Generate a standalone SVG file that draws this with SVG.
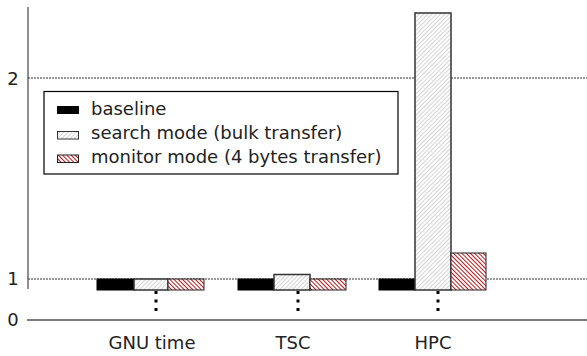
<svg xmlns="http://www.w3.org/2000/svg" width="587" height="356" viewBox="0 0 587 356">
<defs>
<pattern id="hatchSearch" patternUnits="userSpaceOnUse" width="3" height="3" patternTransform="rotate(45)">
<rect width="3" height="3" fill="#ffffff"/>
<line x1="0" y1="0" x2="0" y2="3" stroke="#a8a8a8" stroke-width="1"/>
</pattern>
<pattern id="hatchMonitor" patternUnits="userSpaceOnUse" width="3" height="3" patternTransform="rotate(-45)">
<rect width="3" height="3" fill="#ffffff"/>
<line x1="0" y1="0" x2="0" y2="3" stroke="#b00000" stroke-width="1.8"/>
</pattern>
</defs>
<style>
text{font-family:"DejaVu Sans","Liberation Sans",sans-serif;font-size:18px;fill:#222}
.grid{stroke:#333;stroke-width:1;stroke-dasharray:2,1;fill:none}
.base{fill:#000;stroke:#000;stroke-width:1}
.search{fill:url(#hatchSearch);stroke:#333;stroke-width:1.5}
.monitor{fill:url(#hatchMonitor);stroke:#222;stroke-width:1}
.dot{fill:#000}
</style>
<rect width="587" height="356" fill="#ffffff"/>
<g id="axes">
<line class="grid" x1="28" y1="78" x2="587" y2="78"/>
<line class="grid" x1="28" y1="279" x2="587" y2="279"/>
<line x1="28" y1="7" x2="28" y2="289" stroke="#444" stroke-width="1.2"/>
<line x1="27" y1="320" x2="587" y2="320" stroke="#000" stroke-width="1.2"/>
<text x="13" y="85" text-anchor="middle">2</text>
<text x="13" y="285" text-anchor="middle">1</text>
<text x="13" y="326" text-anchor="middle">0</text>
</g>
<g id="gnu-time">
<rect class="base" x="97" y="279" width="37" height="11"/>
<rect class="search" x="134" y="279" width="34" height="11"/>
<rect class="monitor" x="168" y="279" width="36" height="11"/>
<rect class="dot" x="154.5" y="291" width="3" height="3"/>
<rect class="dot" x="154.5" y="299.5" width="3" height="3"/>
<rect class="dot" x="154.5" y="308" width="3" height="3"/>
<text x="152" y="349" text-anchor="middle">GNU time</text>
</g>
<g id="tsc">
<rect class="base" x="238" y="279" width="36" height="11"/>
<rect class="search" x="274" y="274.5" width="36" height="15.5"/>
<rect class="monitor" x="310" y="279" width="36" height="11"/>
<rect class="dot" x="296.5" y="291" width="3" height="3"/>
<rect class="dot" x="296.5" y="299.5" width="3" height="3"/>
<rect class="dot" x="296.5" y="308" width="3" height="3"/>
<text x="293" y="349" text-anchor="middle">TSC</text>
</g>
<g id="hpc">
<rect class="base" x="379" y="279" width="36" height="11"/>
<rect class="search" x="415" y="13" width="36" height="277"/>
<rect class="monitor" x="451" y="253" width="35" height="37"/>
<rect class="dot" x="436.5" y="291" width="3" height="3"/>
<rect class="dot" x="436.5" y="299.5" width="3" height="3"/>
<rect class="dot" x="436.5" y="308" width="3" height="3"/>
<text x="433" y="349" text-anchor="middle">HPC</text>
</g>
<g id="legend">
<rect x="44" y="91.5" width="354" height="82.5" fill="#ffffff" stroke="#000" stroke-width="1.2"/>
<rect x="57" y="106" width="22" height="8" fill="#000"/>
<text x="91" y="115">baseline</text>
<rect x="57.5" y="131.5" width="21" height="7.5" fill="url(#hatchSearch)" stroke="#333" stroke-width="1"/>
<text x="91" y="139">search mode (bulk transfer)</text>
<rect x="57.5" y="155" width="21" height="7.5" fill="url(#hatchMonitor)" stroke="#222" stroke-width="1"/>
<text x="91" y="163">monitor mode (4 bytes transfer)</text>
</g>
</svg>
